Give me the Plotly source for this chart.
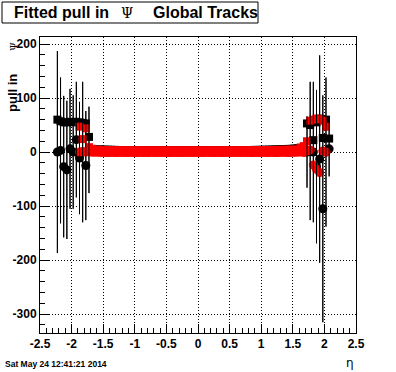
import plotly.graph_objects as go

# ---------------- data ----------------
# eta bin centres (bin width 0.05) where the black (first) histogram has entries
ETA = [
    -2.225, -2.175, -2.125, -2.075, -2.025, -1.975, -1.925, -1.875, -1.825, -1.775,
    -1.725, -1.675, -1.625, -1.575, -1.525, -1.475, -1.425, -1.375, -1.325, -1.275,
    -1.225, -1.175, -1.125, -1.075, -1.025, -0.975, -0.925, -0.875, -0.825, -0.775,
    -0.725, -0.675, -0.625, -0.575, -0.525, -0.475, -0.425, -0.375, -0.325, -0.275,
    -0.225, -0.175, -0.125, -0.075, -0.025, 0.025, 0.075, 0.125, 0.175, 0.225,
    0.275, 0.325, 0.375, 0.425, 0.475, 0.525, 0.575, 0.625, 0.675, 0.725,
    0.775, 0.825, 0.875, 0.925, 0.975, 1.025, 1.075, 1.125, 1.175, 1.225,
    1.275, 1.325, 1.375, 1.425, 1.475, 1.525, 1.575, 1.625, 1.675, 1.725,
    1.775, 1.825, 1.875, 1.925, 1.975, 2.025, 2.075,
]

# black: fitted mean (circles) with error, fitted sigma (squares)
BLACK_MEAN = (
    [0, 3, -27, -33, 6, 0, 23, -11, 0, -25, 4]
    + [1.5, 0.8, 0.4, 0.6, 0.2, -0.3, 0.5, 0.1, -0.2, 0.4,
       0.3, -0.1, 0.2, 0.0, -0.4, 0.3, 0.1, 0.2, -0.2, 0.5,
       0.0, -0.1, 0.3, 0.2, -0.3, 0.1, 0.4, 0.0, -0.2, 0.2,
       0.1, -0.1, 0.3, 0.0, 0.2, -0.2, 0.1, 0.4, -0.1, 0.0,
       0.3, -0.3, 0.2, 0.1, 0.0, -0.2, 0.4, 0.1, -0.1, 0.2,
       0.3, -0.2, 0.0, 0.1, 0.5, -0.1, 0.2, 0.3, -0.3, 0.1,
       0.4, 0.2, -0.2, 0.6, 0.3, 0.8, 1.2, 1.6]
    + [0, 2, 0, -27, -13, -105, 0, 6]
)
BLACK_MEAN_ERR = (
    [187, 135, 131, 128, 111, 105, 107, 104, 130, 101, 80]
    + [4, 3, 3, 2.5, 2.5, 2, 2, 2, 1.8, 1.8,
       1.5, 1.5, 1.5, 1.5, 1.5, 1.5, 1.5, 1.5, 1.5, 1.5,
       1.4, 1.4, 1.4, 1.4, 1.4, 1.4, 1.4, 1.4, 1.4, 1.4,
       1.4, 1.4, 1.4, 1.4, 1.4, 1.4, 1.4, 1.4, 1.4, 1.4,
       1.5, 1.5, 1.5, 1.5, 1.5, 1.5, 1.5, 1.5, 1.5, 1.5,
       1.6, 1.6, 1.6, 1.7, 1.7, 1.8, 1.8, 1.9, 1.9, 2.0,
       1.8, 2, 2, 2.5, 2.5, 3, 3, 4]
    + [66, 128, 130, 142, 192, 210, 138, 51]
)
BLACK_SIGMA = (
    [60, 57, 55, 55, 56, 55, 56, 55, 54, 53, 28]
    + [5.5, 5.0, 4.8, 4.6, 4.5, 4.3, 4.2, 4.0, 3.9, 3.8,
       3.8, 3.7, 3.7, 3.6, 3.6, 3.6, 3.5, 3.5, 3.5, 3.5,
       3.4, 3.4, 3.4, 3.4, 3.4, 3.3, 3.3, 3.3, 3.3, 3.3,
       3.3, 3.3, 3.3, 3.3, 3.3, 3.4, 3.4, 3.4, 3.4, 3.4,
       3.5, 3.5, 3.5, 3.5, 3.6, 3.6, 3.6, 3.7, 3.7, 3.8,
       3.8, 3.9, 4.0, 4.1, 4.2, 4.3, 4.5, 4.6, 4.8, 5.0,
       5.2, 5.5, 5.8, 6.0, 6.5, 7.0, 8.0, 9.0]
    + [53, 50, 22, 55, 62, 26, 60, 25]
)

# red (second) histogram: eta -1.875 ... 2.025
RED_ETA = ETA[7:86]
RED_MEAN = (
    [0, 1, 0, 0.5, -0.5, -0.5]
    + [-0.5, -0.8, -0.6, -0.9, -0.7, -0.8, -1.0, -0.7, -0.9, -0.8,
       -0.6, -0.9, -0.8, -0.7, -1.0, -0.8, -0.9, -0.6, -0.8, -0.7,
       -0.9, -0.8, -0.7, -0.9, -0.8, -1.0, -0.7, -0.8, -0.9, -0.6,
       -0.8, -0.7, -0.9, -0.8, -0.6, -0.9, -0.8, -1.0, -0.7, -0.8,
       -0.9, -0.7, -0.8, -0.6, -0.9, -0.8, -0.7, -1.0, -0.8, -0.9,
       -0.7, -0.8, -0.6, -0.9, -0.8, -0.7, -0.9, -0.8, -0.6, -0.7,
       -0.8, -0.6, -0.5]
    + [-0.5, 0, -1, 2, 4, -24, -32, -38, 2, 0]
)
RED_SIGMA = (
    [47, 24, 44, 9, 6, 4.5]
    + [3.8, 3.6, 3.5, 3.4, 3.4, 3.3, 3.3, 3.2, 3.2, 3.1,
       3.2, 3.1, 3.1, 3.0, 3.1, 3.0, 3.1, 3.0, 2.9, 3.0,
       3.0, 2.9, 3.0, 3.1, 3.0, 2.9, 3.0, 3.0, 3.1, 3.0,
       2.9, 3.0, 3.0, 3.1, 3.0, 3.0, 3.1, 3.0, 3.1, 3.1,
       3.1, 3.2, 3.2, 3.1, 3.2, 3.3, 3.3, 3.3, 3.4, 3.4,
       3.5, 3.5, 3.6, 3.6, 3.7, 3.8, 3.9, 4.0, 4.1, 4.2,
       4.3, 4.4, 4.5]
    + [4.5, 8, 11, 20, 58, 60, 62, 61, 58, 47]
)

X_TICKS = [-2.5, -2, -1.5, -1, -0.5, 0, 0.5, 1, 1.5, 2, 2.5]
X_TICK_TEXT = ["-2.5", "-2", "-1.5", "-1", "-0.5", "0", "0.5", "1", "1.5", "2", "2.5"]
Y_TICKS = [-300, -200, -100, 0, 100, 200]
Y_TICK_TEXT = ["-300", "-200", "-100", "0", "100", "200"]
X_RANGE = [-2.5, 2.5]
Y_RANGE = [-335, 213]

TITLE_PARTS = ["Fitted pull in", "Ψ", "Global Tracks"]
DATE_TEXT = "Sat May 24 12:41:21 2014"

# ---------------- geometry helpers (pixels -> paper) ----------------
W, H = 396, 372
L, R, T, B = 40, 356, 37, 333


def px(x):
    return (x - L) / (R - L)


def py(y):
    return (B - y) / (B - T)


FONT = "Liberation Sans"
RED = "#ff0000"

fig = go.Figure()

# black sigma (squares)
fig.add_trace(go.Scatter(x=ETA, y=BLACK_SIGMA, mode="markers",
                         marker=dict(symbol="square", size=8, color="black"),
                         hoverinfo="skip"))
# black mean (circles) with errors
fig.add_trace(go.Scatter(x=ETA, y=BLACK_MEAN, mode="markers",
                         marker=dict(symbol="circle", size=9, color="black"),
                         error_y=dict(type="data", array=BLACK_MEAN_ERR, symmetric=True,
                                      color="black", thickness=1, width=0),
                         hoverinfo="skip"))
# red sigma (squares)
fig.add_trace(go.Scatter(x=RED_ETA, y=RED_SIGMA, mode="markers",
                         marker=dict(symbol="square", size=8, color=RED),
                         hoverinfo="skip"))
# red mean (circles)
fig.add_trace(go.Scatter(x=RED_ETA, y=RED_MEAN, mode="markers",
                         marker=dict(symbol="circle", size=9, color=RED),
                         hoverinfo="skip"))
# black error bars drawn again on top where they are long
sel = [i for i, e in enumerate(BLACK_MEAN_ERR) if e > 10]
fig.add_trace(go.Scatter(x=[ETA[i] for i in sel], y=[BLACK_MEAN[i] for i in sel],
                         mode="markers", marker=dict(size=1, color="rgba(0,0,0,0)"),
                         error_y=dict(type="data", array=[BLACK_MEAN_ERR[i] for i in sel],
                                      symmetric=True, color="black", thickness=1, width=0),
                         hoverinfo="skip"))

x_minor = [round(-2.5 + 0.1 * k, 1) for k in range(51)]
x_minor = [v for v in x_minor if abs(v * 2 - round(v * 2)) > 1e-6]
y_minor = [v for v in range(-320, 213, 20) if v % 100 != 0]

tickfont = dict(family=FONT, size=12, color="black", weight="bold")

fig.update_xaxes(range=X_RANGE, tickmode="array", tickvals=X_TICKS, ticktext=X_TICK_TEXT,
                 ticks="inside", ticklen=9, tickwidth=1, tickcolor="black",
                 tickfont=tickfont, showline=True, linecolor="black", linewidth=1,
                 mirror=True, showgrid=True, gridcolor="black", gridwidth=1,
                 griddash="1px,2px", zeroline=False,
                 minor=dict(tickmode="array", tickvals=x_minor, ticks="inside",
                            ticklen=5, tickcolor="black", showgrid=False))
fig.update_yaxes(range=Y_RANGE, tickmode="array", tickvals=Y_TICKS, ticktext=Y_TICK_TEXT,
                 ticks="inside", ticklen=9, tickwidth=1, tickcolor="black",
                 tickfont=tickfont, showline=True, linecolor="black", linewidth=1,
                 mirror=True, showgrid=True, gridcolor="black", gridwidth=1,
                 griddash="1px,2px", zeroline=False,
                 minor=dict(tickmode="array", tickvals=y_minor, ticks="inside",
                            ticklen=5, tickcolor="black", showgrid=False))

# title box
fig.add_shape(type="rect", xref="paper", yref="paper",
              x0=px(2), x1=px(258), y0=py(23), y1=py(2),
              line=dict(color="black", width=1), fillcolor="white", layer="above")

ann = []
ann.append(dict(text=TITLE_PARTS[0], x=px(12), y=py(12.5), xanchor="left", yanchor="middle",
                font=dict(family=FONT, size=16, color="black", weight="bold")))
ann.append(dict(text=TITLE_PARTS[1], x=px(127.5), y=py(12.5), xanchor="center", yanchor="middle",
                font=dict(family="DejaVu Serif", size=14, color="black")))
ann.append(dict(text=TITLE_PARTS[2], x=px(151), y=py(12.5), xanchor="left", yanchor="middle",
                font=dict(family=FONT, size=16, color="black", weight="bold")))
# y axis title
ann.append(dict(text="pull in", x=px(13), y=py(93), xanchor="center", yanchor="middle",
                textangle=-90, font=dict(family=FONT, size=13, color="black", weight="bold")))
ann.append(dict(text="Ψ", x=px(13), y=py(47), xanchor="center", yanchor="middle",
                textangle=-90, font=dict(family="DejaVu Serif", size=10, color="black")))
# x axis title
ann.append(dict(text="η", x=px(356), y=py(363), xanchor="right", yanchor="middle",
                font=dict(family="DejaVu Sans", size=12, color="black")))
# date stamp
ann.append(dict(text=DATE_TEXT, x=px(3), y=py(363.5), xanchor="left", yanchor="middle",
                font=dict(family=FONT, size=8.5, color="black", weight="bold")))
for a in ann:
    a.update(xref="paper", yref="paper", showarrow=False)

fig.update_layout(width=W, height=H, margin=dict(l=L, r=W - R, t=T, b=H - B, pad=0),
                  paper_bgcolor="white", plot_bgcolor="white", showlegend=False,
                  annotations=ann)

fig.write_html("out.html", config={"displayModeBar": False, "staticPlot": True},
               post_script="document.body.style.margin='0';document.body.style.overflow='hidden';")
